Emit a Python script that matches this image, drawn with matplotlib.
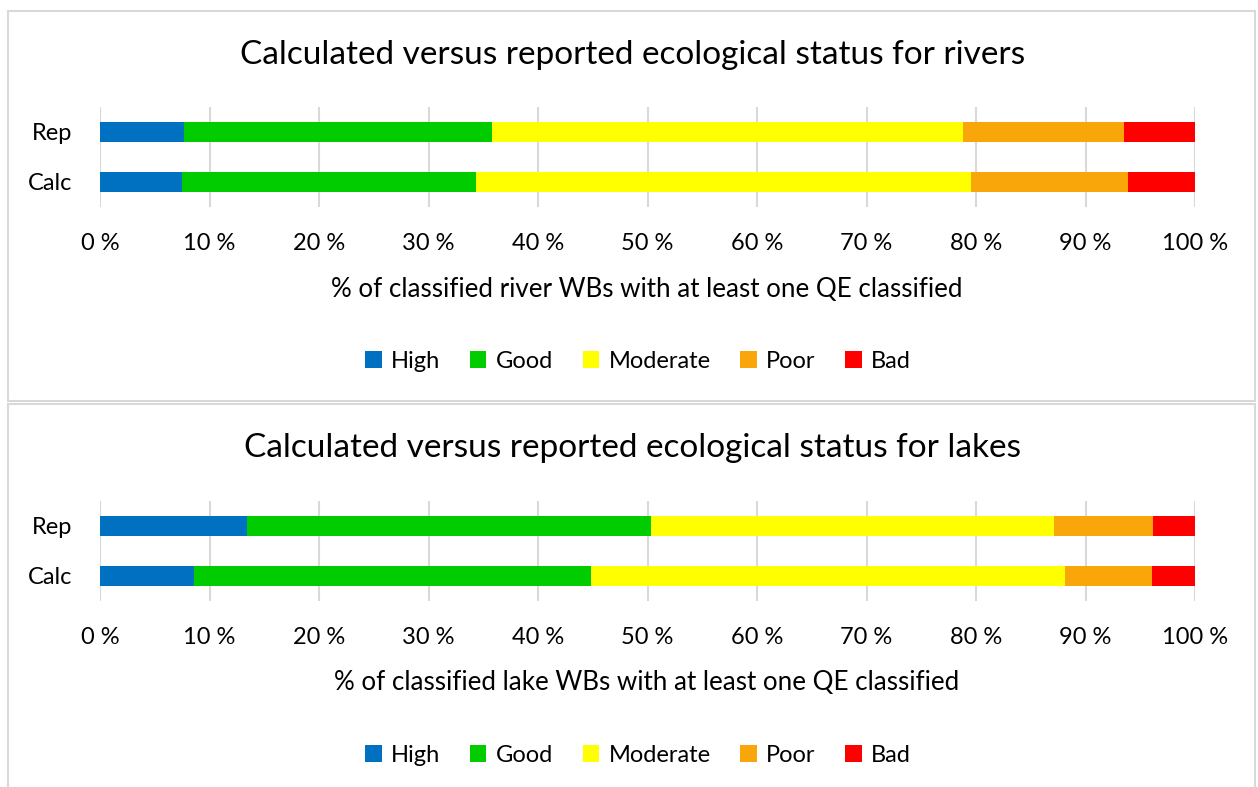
import matplotlib.pyplot as plt
from matplotlib.patches import Rectangle, Patch

W, H = 1258, 787

# data (% of classified water bodies)
classes = ['High', 'Good', 'Moderate', 'Poor', 'Bad']
colors = ['#0070C0', '#00CC00', '#FFFF00', '#F9A60A', '#FF0000']
rows = ['Calc', 'Rep']

rivers_rep = [7.7, 28.1, 43.0, 14.7, 6.5]
rivers_calc = [7.5, 26.8, 45.2, 14.4, 6.1]
lakes_rep = [13.4, 36.9, 36.8, 9.1, 3.8]
lakes_calc = [8.6, 36.2, 43.3, 8.0, 3.9]

titles = ['Calculated versus reported ecological status for rivers',
          'Calculated versus reported ecological status for lakes']
xlabels = ['% of classified river WBs with at least one QE classified',
           '% of classified lake WBs with at least one QE classified']

plt.rcParams['font.family'] = ['Lato', 'DejaVu Sans']

fig = plt.figure(figsize=(W / 100, H / 100), dpi=100)


def fx(px):
    return px / W


def fy(py):
    return 1 - py / H


# panel frames
for top, bot in [(11, 401), (404, 800)]:
    fig.patches.append(Rectangle((fx(8), fy(bot)), fx(1255) - fx(8), fy(top) - fy(bot),
                                 transform=fig.transFigure, fill=False,
                                 edgecolor='#D9D9D9', lw=1.5))

panels = [
    (rivers_calc, rivers_rep, 157, 55, 289, 361),
    (lakes_calc, lakes_rep, 550.5, 448, 682, 755),
]

for i, (calc, rep, yc, ty, ly, legy) in enumerate(panels):
    ax = fig.add_axes([fx(100), fy(yc + 50), fx(1195) - fx(100), 100 / H])
    data = [calc, rep]
    for r, vals in enumerate(data):
        left = 0
        for c, v in enumerate(vals):
            ax.barh(r, v, left=left, height=0.4, color=colors[c], zorder=3)
            left += v
    ax.set_xlim(0, 100)
    ax.set_ylim(-0.5, 1.5)
    ax.set_yticks([0, 1])
    ax.set_yticklabels(rows, fontsize=17)
    ax.set_xticks(range(0, 101, 10))
    ax.set_xticklabels(['%d %%' % t for t in range(0, 101, 10)], fontsize=17)
    ax.tick_params(length=0)
    ax.tick_params(axis='x', pad=19)
    ax.tick_params(axis='y', pad=20)
    ax.grid(axis='x', color='#D9D9D9', lw=1.5, zorder=0)
    for s in ax.spines.values():
        s.set_visible(False)

    fig.text(fx(633), fy(ty), titles[i], ha='center', va='center', fontsize=24)
    fig.text(fx(647), fy(ly), xlabels[i], ha='center', va='center', fontsize=18.7)

    handles = [Patch(facecolor=colors[c], label=classes[c]) for c in range(5)]
    fig.legend(handles=handles, loc='center', ncol=5, frameon=False,
               bbox_to_anchor=(fx(638), fy(legy)), fontsize=17,
               handlelength=0.7, handleheight=0.7, handletextpad=0.4,
               columnspacing=1.25)

fig.savefig('out.png', dpi=100)
